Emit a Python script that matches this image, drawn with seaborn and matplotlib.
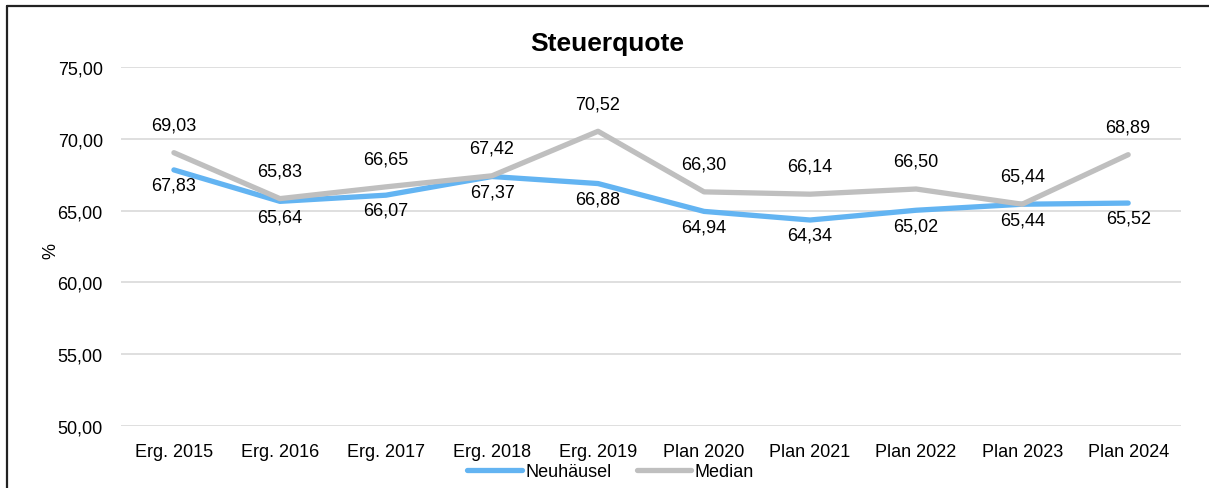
"""Steuerquote line chart: Neuhäusel vs. Median"""
import pandas as pd
import matplotlib.pyplot as plt
import seaborn as sns
from matplotlib.lines import Line2D

# data
years = ["Erg. 2015", "Erg. 2016", "Erg. 2017", "Erg. 2018", "Erg. 2019",
         "Plan 2020", "Plan 2021", "Plan 2022", "Plan 2023", "Plan 2024"]
neuhaeusel = [67.83, 65.64, 66.07, 67.37, 66.88, 64.94, 64.34, 65.02, 65.44, 65.52]
median = [69.03, 65.83, 66.65, 67.42, 70.52, 66.30, 66.14, 66.50, 65.44, 68.89]
y_ticks = [50, 55, 60, 65, 70, 75]

BLUE = "#63B4F2"
GRAY = "#BFBFBF"

sns.set_style("white")
plt.rcParams['font.family'] = ['Liberation Sans', 'DejaVu Sans']
plt.rcParams['text.color'] = "#000000"

df = pd.DataFrame({
    "Jahr": years * 2,
    "Wert": neuhaeusel + median,
    "Reihe": ["Neuhäusel"] * len(years) + ["Median"] * len(years),
})
df["pos"] = list(range(len(years))) * 2

fig = plt.figure(figsize=(12.09, 4.89), dpi=100)
ax = fig.add_axes([0.100, 0.127, 0.877, 0.734])

sns.lineplot(data=df, x="pos", y="Wert", hue="Reihe",
             hue_order=["Neuhäusel", "Median"],
             palette={"Neuhäusel": BLUE, "Median": GRAY},
             linewidth=3.8, ax=ax, legend=False, zorder=3)

# data labels: median above, Neuhäusel below
for i, (n, m) in enumerate(zip(neuhaeusel, median)):
    ax.annotate(f"{m:.2f}".replace(".", ","), (i, m), xytext=(0, 20),
                textcoords="offset points", ha="center", va="center",
                fontsize=13, color="#000000", zorder=5)
    ax.annotate(f"{n:.2f}".replace(".", ","), (i, n), xytext=(0, -11),
                textcoords="offset points", ha="center", va="center",
                fontsize=13, color="#000000", zorder=5)

ax.set_xlim(-0.5, len(years) - 0.5)
ax.set_ylim(50, 75)
ax.set_xticks(range(len(years)))
ax.set_xticklabels(years)
ax.set_yticks(y_ticks)
ax.set_yticklabels([f"{v:.2f}".replace(".", ",") for v in y_ticks])
ax.tick_params(axis="both", length=0, labelsize=13, colors="#000000")
ax.tick_params(axis="y", pad=13)
ax.tick_params(axis="x", pad=12)
ax.grid(axis="y", color="#D9D9D9", linewidth=1.2, zorder=0)
ax.grid(axis="x", visible=False)
for s in ax.spines.values():
    s.set_visible(False)
ax.set_xlabel("")
ax.set_ylabel("%", fontsize=13, color="#000000")
ax.yaxis.set_label_coords(-0.058, 0.49)

fig.text(0.502, 0.91, "Steuerquote", ha="center", va="center",
         fontsize=19, fontweight="bold", color="#000000")

handles = [Line2D([], [], color=BLUE, linewidth=3.8),
           Line2D([], [], color=GRAY, linewidth=3.8)]
fig.legend(handles, ["Neuhäusel", "Median"], loc="center",
           bbox_to_anchor=(0.505, 0.033), ncol=2, frameon=False,
           fontsize=13, handlelength=3.0, handletextpad=0.2,
           columnspacing=1.4)

# outer chart border (top and left only visible in reference)
fig.add_artist(Line2D([0.0058, 0.0058], [0.0, 0.986], color="#222222",
                      linewidth=1.6, transform=fig.transFigure))
fig.add_artist(Line2D([0.0058, 1.0], [0.986, 0.986], color="#222222",
                      linewidth=1.6, transform=fig.transFigure))

fig.savefig("out.png", dpi=100)
